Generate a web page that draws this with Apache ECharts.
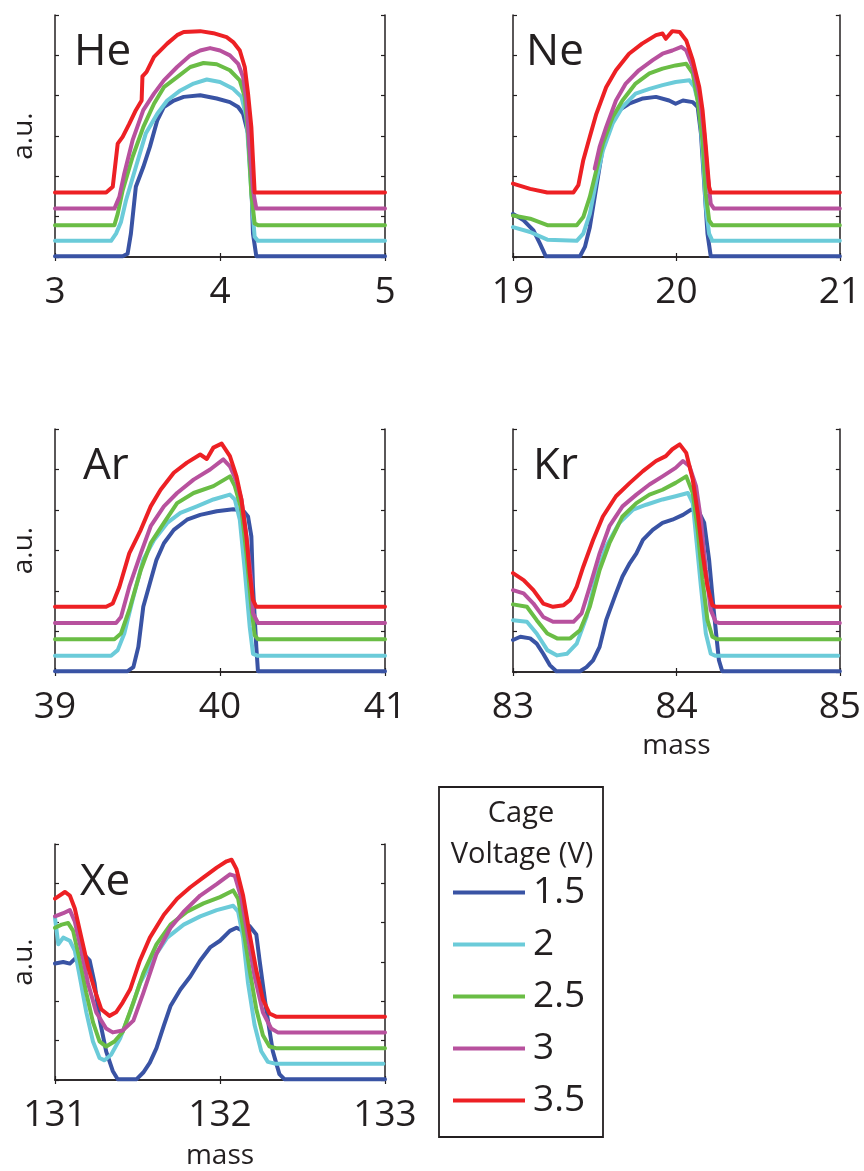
<!DOCTYPE html>
<html>
<head>
<meta charset="utf-8">
<script src="https://cdn.jsdelivr.net/npm/echarts@6/dist/echarts.min.js"></script>
<style>
  html, body { margin: 0; padding: 0; background: #fff; }
  #chart { width: 864px; height: 1171px; }
</style>
</head>
<body>
<div id="chart"></div>
<script>
// cage voltages (V) and their line colours
const voltages = ['1.5', '2', '2.5', '3', '3.5']
const colors = ['#3953a4', '#6bcbd9', '#6abd45', '#b8519e', '#ed2024']

const gases = ['He', 'Ne', 'Ar', 'Kr', 'Xe']
const massMin = [3, 19, 39, 83, 131]

// He, mass 3-5
const heB = [[3,0.02],[3.41,0.02],[3.44,0.08],[3.46,0.58],[3.49,1.74],[3.535,2.23],[3.575,2.73],[3.62,3.39],[3.66,3.72],[3.72,3.88],[3.78,3.97],[3.88,4.01],[3.98,3.93],[4.06,3.84],[4.11,3.72],[4.14,3.55],[4.17,3.06],[4.19,1.82],[4.2,0.58],[4.22,0.02],[5,0.02]]
const heC = [[3,0.4],[3.34,0.4],[3.37,0.58],[3.4,0.87],[3.43,1.4],[3.49,2.23],[3.55,3.06],[3.62,3.55],[3.68,3.88],[3.76,4.13],[3.84,4.3],[3.92,4.4],[4.0,4.34],[4.08,4.17],[4.13,3.97],[4.16,3.47],[4.18,2.23],[4.2,1.0],[4.21,0.5],[4.23,0.4],[5,0.4]]
const heG = [[3,0.79],[3.36,0.79],[3.38,1.07],[3.41,1.65],[3.47,2.48],[3.535,3.22],[3.6,3.8],[3.66,4.21],[3.74,4.46],[3.82,4.71],[3.9,4.81],[3.98,4.78],[4.06,4.63],[4.12,4.38],[4.15,3.97],[4.17,3.06],[4.19,1.57],[4.21,0.83],[4.23,0.79],[5,0.79]]
const heM = [[3,1.2],[3.36,1.2],[3.39,1.49],[3.42,2.07],[3.47,2.89],[3.535,3.64],[3.6,4.05],[3.66,4.38],[3.74,4.71],[3.82,5.0],[3.88,5.12],[3.94,5.18],[4.0,5.12],[4.06,5.0],[4.11,4.79],[4.14,4.46],[4.16,3.88],[4.18,2.64],[4.2,1.66],[4.22,1.2],[5,1.2]]
const heR = [[3,1.6],[3.31,1.6],[3.35,1.74],[3.38,2.81],[3.41,2.98],[3.45,3.3],[3.49,3.64],[3.525,3.88],[3.53,4.48],[3.555,4.59],[3.6,4.96],[3.68,5.29],[3.74,5.5],[3.78,5.58],[3.88,5.6],[3.96,5.55],[4.04,5.45],[4.08,5.33],[4.12,5.12],[4.15,4.71],[4.17,4.05],[4.19,3.22],[4.2,2.4],[4.21,1.6],[5,1.6]]

// Ne, mass 19-21
const neB = [[19,1.07],[19.065,0.91],[19.125,0.66],[19.165,0.33],[19.2,0.02],[19.41,0.02],[19.44,0.25],[19.47,0.74],[19.51,1.74],[19.55,2.73],[19.59,3.22],[19.65,3.64],[19.71,3.8],[19.795,3.93],[19.875,3.97],[19.955,3.88],[19.995,3.8],[20.04,3.88],[20.1,3.84],[20.13,3.72],[20.15,3.06],[20.17,1.82],[20.19,0.58],[20.21,0.02],[21,0.02]]
const neC = [[19,0.74],[19.105,0.62],[19.21,0.43],[19.39,0.4],[19.43,0.58],[19.47,1.07],[19.51,1.9],[19.55,2.64],[19.61,3.31],[19.67,3.72],[19.75,4.05],[19.835,4.17],[19.915,4.26],[19.995,4.34],[20.08,4.38],[20.11,4.21],[20.14,3.72],[20.16,2.64],[20.18,1.24],[20.2,0.58],[20.22,0.4],[21,0.4]]
const neG = [[19,1.03],[19.105,0.95],[19.21,0.79],[19.39,0.79],[19.43,0.99],[19.47,1.49],[19.51,2.15],[19.55,2.81],[19.61,3.47],[19.67,3.88],[19.75,4.3],[19.835,4.55],[19.915,4.67],[19.995,4.75],[20.06,4.79],[20.1,4.55],[20.13,3.88],[20.16,2.89],[20.18,1.57],[20.2,0.91],[20.22,0.79],[21,0.79]]
const neM = [[19.5,2.19],[19.53,2.73],[19.57,3.22],[19.63,3.88],[19.69,4.3],[19.77,4.63],[19.855,4.88],[19.915,5.04],[19.975,5.12],[20.03,5.21],[20.06,5.12],[20.1,4.71],[20.14,4.05],[20.17,3.06],[20.19,2.07],[20.21,1.32],[20.23,1.2],[21,1.2]]
const neR = [[19,1.82],[19.105,1.69],[19.21,1.6],[19.37,1.6],[19.4,1.78],[19.43,2.4],[19.47,2.98],[19.51,3.55],[19.57,4.21],[19.63,4.63],[19.71,5.04],[19.79,5.29],[19.875,5.5],[19.915,5.54],[19.935,5.41],[19.975,5.6],[20.02,5.58],[20.06,5.37],[20.1,4.88],[20.14,4.21],[20.16,3.64],[20.18,2.73],[20.2,1.74],[20.21,1.6],[21,1.6]]

// Ar, mass 39-41
const arB = [[39,0.02],[39.44,0.02],[39.475,0.12],[39.505,0.62],[39.535,1.61],[39.575,2.19],[39.615,2.77],[39.66,3.18],[39.72,3.51],[39.8,3.76],[39.88,3.88],[39.98,3.97],[40.08,4.02],[40.14,3.99],[40.17,3.84],[40.19,3.35],[40.2,2.11],[40.22,0.62],[40.23,0.02],[41,0.02]]
const arC = [[39,0.4],[39.34,0.4],[39.38,0.54],[39.42,0.95],[39.47,1.78],[39.535,2.77],[39.6,3.26],[39.68,3.68],[39.76,3.93],[39.86,4.09],[39.96,4.26],[40.06,4.38],[40.09,4.26],[40.12,3.76],[40.15,2.52],[40.18,1.12],[40.2,0.45],[40.23,0.4],[41,0.4]]
const arG = [[39,0.81],[39.36,0.81],[39.4,0.95],[39.45,1.53],[39.52,2.52],[39.58,3.18],[39.66,3.68],[39.74,4.17],[39.84,4.42],[39.96,4.59],[40.06,4.83],[40.09,4.59],[40.13,4.01],[40.16,2.93],[40.19,1.61],[40.21,0.91],[40.23,0.81],[41,0.81]]
const arM = [[39,1.21],[39.37,1.21],[39.4,1.36],[39.45,2.1],[39.52,2.93],[39.58,3.6],[39.66,4.09],[39.74,4.42],[39.84,4.75],[39.94,5.0],[40.02,5.25],[40.06,5.08],[40.1,4.71],[40.13,4.26],[40.16,3.35],[40.19,2.27],[40.2,1.45],[40.23,1.21],[41,1.21]]
const arR = [[39,1.61],[39.31,1.61],[39.35,1.69],[39.39,2.1],[39.45,2.93],[39.52,3.51],[39.58,4.09],[39.64,4.5],[39.72,4.92],[39.8,5.17],[39.88,5.37],[39.92,5.26],[39.96,5.54],[40.01,5.64],[40.06,5.33],[40.1,4.83],[40.13,4.26],[40.16,3.35],[40.18,2.44],[40.2,1.78],[40.22,1.61],[41,1.61]]

// Kr, mass 83-85
const krB = [[83,0.79],[83.045,0.87],[83.105,0.83],[83.145,0.7],[83.185,0.45],[83.225,0.17],[83.265,0.02],[83.41,0.02],[83.45,0.12],[83.49,0.29],[83.53,0.62],[83.57,1.28],[83.63,1.94],[83.67,2.36],[83.715,2.69],[83.755,2.93],[83.795,3.26],[83.855,3.51],[83.915,3.68],[83.975,3.76],[84.04,3.88],[84.09,4.01],[84.14,3.93],[84.17,3.68],[84.2,2.77],[84.23,1.45],[84.26,0.29],[84.28,0.02],[85,0.02]]
const krC = [[83,1.28],[83.085,1.24],[83.145,0.95],[83.21,0.54],[83.27,0.41],[83.33,0.45],[83.39,0.7],[83.45,1.36],[83.51,2.36],[83.57,3.1],[83.65,3.68],[83.735,4.01],[83.815,4.13],[83.915,4.26],[83.995,4.34],[84.07,4.42],[84.1,4.17],[84.12,3.35],[84.15,2.11],[84.18,0.95],[84.21,0.45],[84.24,0.4],[84.99,0.4]]
const krG = [[83,1.67],[83.085,1.61],[83.145,1.28],[83.21,0.95],[83.27,0.83],[83.35,0.83],[83.41,1.03],[83.47,1.61],[83.53,2.52],[83.59,3.18],[83.67,3.84],[83.755,4.17],[83.835,4.38],[83.915,4.5],[83.995,4.67],[84.06,4.83],[84.1,4.42],[84.13,3.51],[84.16,2.27],[84.19,1.28],[84.22,0.87],[84.25,0.81],[85,0.81]]
const krM = [[83,2.02],[83.065,1.94],[83.125,1.69],[83.185,1.36],[83.245,1.24],[83.37,1.24],[83.42,1.45],[83.47,2.11],[83.53,2.93],[83.59,3.6],[83.67,4.09],[83.755,4.38],[83.835,4.63],[83.915,4.83],[83.995,5.04],[84.04,5.21],[84.08,5.08],[84.12,4.59],[84.15,3.76],[84.18,2.52],[84.21,1.53],[84.24,1.24],[84.26,1.21],[85,1.21]]
const krR = [[83,2.44],[83.065,2.27],[83.125,2.02],[83.185,1.69],[83.245,1.61],[83.31,1.65],[83.35,1.78],[83.39,2.11],[83.43,2.6],[83.49,3.26],[83.55,3.84],[83.63,4.34],[83.715,4.67],[83.795,4.96],[83.875,5.21],[83.935,5.33],[83.975,5.5],[84.02,5.62],[84.06,5.41],[84.1,4.75],[84.13,3.93],[84.16,2.93],[84.19,2.11],[84.22,1.65],[84.24,1.61],[85,1.61]]

// Xe, mass 131-133
const xeB = [[131,2.96],[131.05,3.0],[131.09,2.96],[131.12,3.08],[131.15,3.21],[131.18,3.17],[131.21,3.04],[131.24,2.46],[131.27,1.55],[131.31,0.73],[131.35,0.23],[131.38,0.02],[131.495,0.02],[131.535,0.19],[131.575,0.44],[131.615,0.81],[131.66,1.39],[131.7,1.88],[131.76,2.3],[131.82,2.63],[131.88,3.04],[131.94,3.37],[132.0,3.54],[132.06,3.79],[132.1,3.87],[132.14,3.79],[132.18,3.91],[132.22,3.7],[132.24,3.04],[132.28,1.8],[132.32,0.73],[132.36,0.15],[132.39,0.02],[133,0.02]]
const xeC = [[131,4.12],[131.02,3.45],[131.05,3.62],[131.09,3.54],[131.12,3.29],[131.15,2.63],[131.19,1.72],[131.23,0.98],[131.27,0.56],[131.3,0.5],[131.34,0.64],[131.395,1.06],[131.455,1.72],[131.515,2.46],[131.6,3.12],[131.68,3.62],[131.78,3.95],[131.88,4.16],[131.98,4.32],[132.08,4.43],[132.11,4.28],[132.14,3.62],[132.17,2.46],[132.21,1.39],[132.25,0.73],[132.29,0.46],[132.34,0.41],[132.99,0.41]]
const xeG = [[131,3.87],[131.04,3.95],[131.08,3.99],[131.11,3.79],[131.15,3.04],[131.19,2.21],[131.23,1.47],[131.27,0.98],[131.31,0.85],[131.36,0.98],[131.41,1.22],[131.475,1.97],[131.535,2.71],[131.615,3.45],[131.7,3.95],[131.8,4.28],[131.9,4.49],[132.0,4.65],[132.08,4.82],[132.11,4.61],[132.14,3.87],[132.18,2.79],[132.22,1.8],[132.26,1.14],[132.3,0.85],[132.34,0.81],[133,0.81]]
const xeM = [[131,4.16],[131.05,4.24],[131.09,4.32],[131.12,4.03],[131.16,3.29],[131.2,2.46],[131.25,1.72],[131.31,1.31],[131.35,1.21],[131.41,1.26],[131.475,1.51],[131.535,2.21],[131.615,3.21],[131.7,3.87],[131.78,4.28],[131.88,4.69],[131.98,4.98],[132.06,5.23],[132.09,5.19],[132.13,4.61],[132.17,3.62],[132.21,2.63],[132.26,1.72],[132.31,1.31],[132.35,1.21],[133,1.21]]
const xeR = [[131,4.61],[131.06,4.78],[131.09,4.69],[131.12,4.36],[131.16,3.62],[131.2,2.88],[131.24,2.3],[131.28,1.8],[131.33,1.63],[131.37,1.72],[131.41,1.97],[131.455,2.3],[131.515,3.04],[131.575,3.62],[131.66,4.2],[131.74,4.61],[131.82,4.9],[131.9,5.15],[131.98,5.4],[132.04,5.56],[132.07,5.6],[132.1,5.36],[132.14,4.69],[132.18,3.7],[132.22,2.79],[132.26,2.05],[132.3,1.69],[132.34,1.61],[133,1.61]]

const curves = [
  [heB, heC, heG, heM, heR],
  [neB, neC, neG, neM, neR],
  [arB, arC, arG, arM, arR],
  [krB, krC, krG, krM, krR],
  [xeB, xeC, xeG, xeM, xeR]
]

// panel layout (px)
const layout = [
  { left: 55, top: 15, width: 330, height: 242, yName: true, xName: false, xGap: 0, tx: 69, ty: 25 },
  { left: 513, top: 15, width: 329, height: 242, yName: false, xName: false, xGap: 0, tx: 521, ty: 25 },
  { left: 55, top: 429, width: 330, height: 243, yName: true, xName: false, xGap: 0, tx: 78, ty: 439 },
  { left: 513, top: 429, width: 329, height: 243, yName: false, xName: true, xGap: 60, tx: 528, ty: 439 },
  { left: 55, top: 844, width: 330, height: 242, yName: true, xName: true, xGap: 62, tx: 75, ty: 855 }
]

const ink = '#231f20'
const font = '"Open Sans", "DejaVu Sans", sans-serif'

const chart = echarts.init(document.getElementById('chart'))

const grid = []
const xAxis = []
const yAxis = []
const series = []
const title = []

const frameAxis = {
  axisLine: { show: true, lineStyle: { color: ink, width: 1.5 } },
  axisTick: { show: true, inside: true, length: 4, lineStyle: { color: ink, width: 1.2 } },
  splitLine: { show: false }
}

layout.forEach((p, g) => {
  grid.push({ left: p.left, top: p.top, width: p.width, height: p.height, containLabel: false })

  xAxis.push({
    ...frameAxis,
    type: 'value', gridIndex: g, position: 'bottom',
    min: massMin[g], max: massMin[g] + 2, interval: 1,
    axisLabel: { show: true, color: ink, fontSize: 37, fontFamily: font, margin: 17 },
    name: p.xName ? 'mass' : '',
    nameLocation: 'middle',
    nameGap: p.xGap,
    nameTextStyle: { color: ink, fontSize: 28, fontFamily: font }
  })
  xAxis.push({
    ...frameAxis,
    type: 'value', gridIndex: g, position: 'top',
    min: massMin[g], max: massMin[g] + 2, interval: 1,
    axisLabel: { show: false }
  })
  yAxis.push({
    ...frameAxis,
    type: 'value', gridIndex: g, position: 'left',
    min: 0, max: 6, interval: 1,
    axisLabel: { show: false },
    name: p.yName ? 'a.u.' : '',
    nameLocation: 'middle',
    nameRotate: 90,
    nameGap: 17,
    nameTextStyle: { color: ink, fontSize: 28, fontFamily: font }
  })
  yAxis.push({
    ...frameAxis,
    type: 'value', gridIndex: g, position: 'right',
    min: 0, max: 6, interval: 1,
    axisLabel: { show: false }
  })

  title.push({
    text: gases[g], left: p.tx, top: p.ty,
    textStyle: { color: ink, fontSize: 44, fontWeight: 'normal', fontFamily: font }
  })

  curves[g].forEach((d, k) => {
    series.push({
      name: voltages[k],
      type: 'line',
      xAxisIndex: g * 2,
      yAxisIndex: g * 2,
      data: d,
      showSymbol: false,
      symbol: 'none',
      animation: false,
      lineStyle: { color: colors[k], width: 4, join: 'round', cap: 'round' },
      itemStyle: { color: colors[k] },
      z: 2 + k
    })
  })
})

const option = {
  backgroundColor: '#fff',
  animation: false,
  title: title,
  grid: grid,
  xAxis: xAxis,
  yAxis: yAxis,
  series: series,
  legend: {
    orient: 'vertical',
    left: 453,
    top: 874,
    padding: 0,
    itemGap: 15,
    itemWidth: 72,
    itemHeight: 4,
    icon: 'rect',
    selectedMode: false,
    data: voltages,
    textStyle: { color: ink, fontSize: 37, fontFamily: font, padding: [0, 0, 0, 3] }
  },
  graphic: [
    {
      type: 'rect',
      shape: { x: 439, y: 787, width: 164, height: 350 },
      style: { fill: 'none', stroke: ink, lineWidth: 1.8 },
      z: 10
    },
    {
      type: 'text',
      x: 521, y: 814,
      style: { text: 'Cage', fill: ink, font: '29px ' + font, textAlign: 'center', textVerticalAlign: 'middle' },
      z: 10
    },
    {
      type: 'text',
      x: 522, y: 855,
      style: { text: 'Voltage (V)', fill: ink, font: '29px ' + font, textAlign: 'center', textVerticalAlign: 'middle' },
      z: 10
    }
  ]
}

chart.setOption(option)
window.addEventListener('resize', () => chart.resize())
</script>
</body>
</html>
